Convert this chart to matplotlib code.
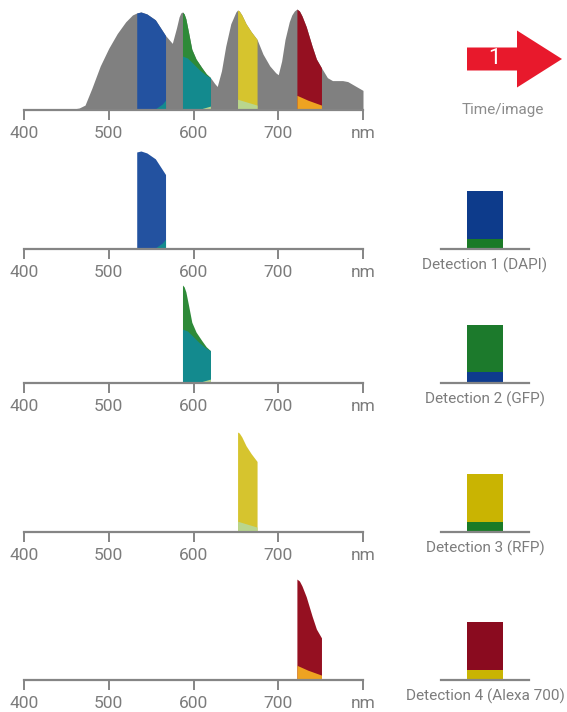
import numpy as np
import matplotlib.pyplot as plt
from matplotlib.patches import FancyArrow

plt.rcParams['font.family'] = ['Liberation Sans Narrow', 'Roboto', 'DejaVu Sans']

# emission spectrum (relative), wavelength in nm
wl = np.array([400, 450, 458, 465, 472, 480, 490, 500, 510, 520, 528, 533, 538, 545,
               555, 567, 575, 580, 583, 585, 587, 589, 591, 594, 598, 603, 610, 615, 620, 625,
               628, 633, 638, 644, 648, 650, 652, 654, 657, 662, 668, 675, 682, 690, 697, 700,
               704, 708, 713, 716, 719, 722, 725, 728, 733, 740, 745, 751, 758, 764, 770, 776,
               782, 790, 800])
inten = np.array([0, 0, 0.01, 0.02, 0.05, 0.22, 0.45, 0.63, 0.78, 0.9, 0.97, 0.99, 1.0, 0.98,
                  0.92, 0.76, 0.68, 0.84, 0.95, 0.99, 1.0, 0.98, 0.93, 0.8, 0.62, 0.52, 0.43, 0.37, 0.33, 0.27,
                  0.24, 0.4, 0.65, 0.88, 0.96, 1.0, 1.02, 1.01, 0.97, 0.88, 0.8, 0.72, 0.57, 0.45, 0.38, 0.36,
                  0.5, 0.72, 0.9, 0.97, 1.01, 1.03, 1.01, 0.96, 0.85, 0.65, 0.52, 0.43, 0.33, 0.3, 0.3, 0.3,
                  0.29, 0.25, 0.2])

# detection windows
det_names = ['Detection 1 (DAPI)', 'Detection 2 (GFP)', 'Detection 3 (RFP)', 'Detection 4 (Alexa 700)']
det_lo = [533, 587, 652, 722]
det_hi = [567, 620, 675, 751]
det_color = ['#2352a0', '#2e8a38', '#d6c42e', '#951021']

# bleed-through layers inside each window (wavelength, height)
bleed_wl = [[533, 553, 558, 563, 567],
            [587, 593, 600, 607, 614, 620],
            [652, 675],
            [722, 735, 751]]
bleed_h = [[0, 0, 0.03, 0.06, 0.1],
           [0.55, 0.53, 0.47, 0.41, 0.36, 0.33],
           [0.11, 0.05],
           [0.15, 0.1, 0.05]]
bleed_color = ['#138a8e', '#138a8e', '#b9d68e', '#eea321']
# second small layer in the GFP window
gfp2_wl = [604, 612, 620]
gfp2_h = [0, 0.02, 0.04]

# detected intensities (bar charts)
bar_main = [48, 47, 48, 48]
bar_cross = [10, 11, 10, 10]
bar_main_c = ['#0d3b8b', '#1c7a2c', '#c9b402', '#8a0b1f']
bar_cross_c = ['#1a7a26', '#0e3b8e', '#1a7a26', '#c9b402']

ticks = [400, 500, 600, 700, 800]
tick_labels = ['400', '500', '600', '700', 'nm']

W, H = 567, 712
base_px = [110, 249, 383, 532, 680]
gray_ax = '#858585'

fig = plt.figure(figsize=(W / 100, H / 100), dpi=100)


def spec_axes(b):
    ax = fig.add_axes([24 / W, (H - b) / H, 339 / W, 110 / H])
    ax.set_xlim(400, 800)
    ax.set_ylim(0, 110 / 98)
    for s in ['top', 'left', 'right']:
        ax.spines[s].set_visible(False)
    ax.spines['bottom'].set_color(gray_ax)
    ax.spines['bottom'].set_linewidth(1.6)
    ax.set_yticks([])
    ax.set_xticks(ticks)
    ax.set_xticklabels(tick_labels)
    ax.tick_params(axis='x', direction='out', length=7.5, width=1.4, color=gray_ax,
                   labelcolor='#7c7c7c', labelsize=12.5, pad=4)
    ax.patch.set_alpha(0)
    return ax


def draw_band(ax, i):
    m = (wl >= det_lo[i]) & (wl <= det_hi[i])
    ax.fill_between(wl[m], 0, inten[m], color=det_color[i], lw=0)
    ax.fill_between(bleed_wl[i], 0, bleed_h[i], color=bleed_color[i], lw=0)
    if i == 1:
        ax.fill_between(gfp2_wl, 0, gfp2_h, color='#b9d68e', lw=0)


# top: full spectrum
ax0 = spec_axes(base_px[0])
ax0.fill_between(wl, 0, inten, color='#808080', lw=0)
for i in range(4):
    draw_band(ax0, i)

# one panel per detection
for i in range(4):
    ax = spec_axes(base_px[i + 1])
    draw_band(ax, i)

    bx = fig.add_axes([441 / W, (H - base_px[i + 1]) / H, 88 / W, 70 / H])
    bx.set_xlim(0, 1)
    bx.set_ylim(0, 70)
    bx.bar(0.5, bar_cross[i], width=0.42, color=bar_cross_c[i], lw=0)
    bx.bar(0.5, bar_main[i], bottom=bar_cross[i], width=0.42, color=bar_main_c[i], lw=0)
    for s in ['top', 'left', 'right']:
        bx.spines[s].set_visible(False)
    bx.spines['bottom'].set_color(gray_ax)
    bx.spines['bottom'].set_linewidth(1.6)
    bx.set_xticks([])
    bx.set_yticks([])
    bx.patch.set_alpha(0)

# overlay for arrow and labels (pixel coordinates)
ov = fig.add_axes([0, 0, 1, 1], zorder=-1)
ov.set_xlim(0, W)
ov.set_ylim(H, 0)
ov.axis('off')
ov.add_patch(FancyArrow(467, 59, 95, 0, width=23, head_width=57, head_length=45,
                        length_includes_head=True, color='#e8192c', lw=0))
ov.text(494, 59, '1', color='white', fontsize=16, ha='center', va='center')
ov.text(503, 110, 'Time/image', color='#8c8c8c', fontsize=11, ha='center', va='center')
for i in range(4):
    ov.text(485, base_px[i + 1] + 16, det_names[i], color='#7c7c7c', fontsize=11,
            ha='center', va='center')

fig.savefig('out.png', dpi=100)
